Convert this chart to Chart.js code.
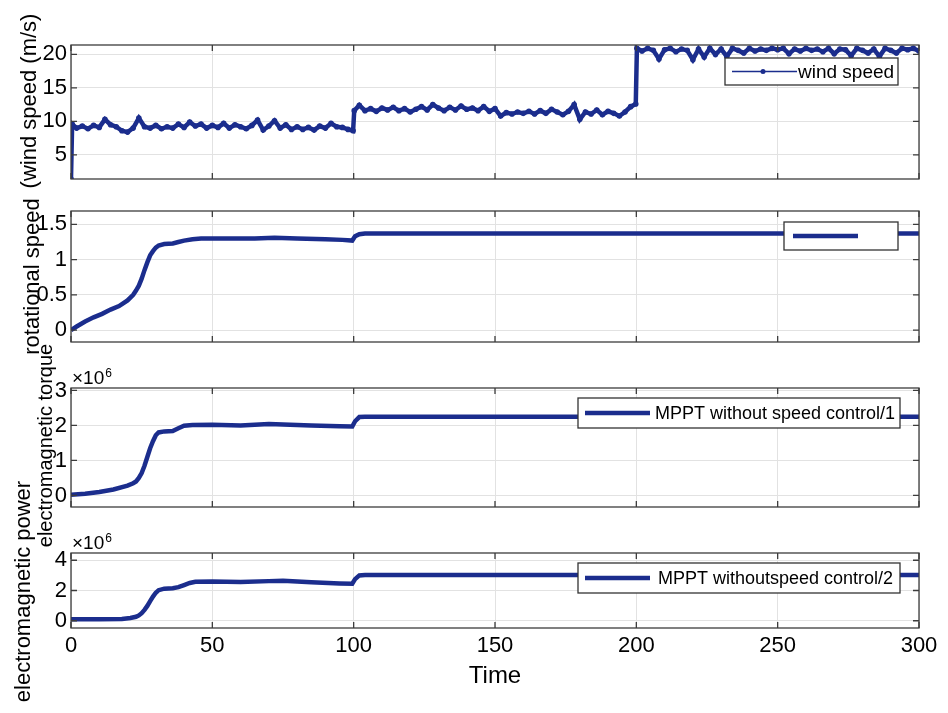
<!DOCTYPE html>
<html>
<head>
<meta charset="utf-8">
<title>MPPT without speed control</title>
<script src="https://cdn.jsdelivr.net/npm/chart.js@4.4.1/dist/chart.umd.min.js"></script>
<style>
    body { margin: 0; background: #fff; }
    #wrap { position: relative; width: 948px; height: 713px; overflow: hidden; }
    #wrap canvas { position: absolute; left: 0; }
</style>
</head>
<body>
<div id="wrap">
    <canvas id="windChart" width="948" height="200" style="top:0px"></canvas>
    <canvas id="rotChart" width="948" height="170" style="top:190px"></canvas>
    <canvas id="torqueChart" width="948" height="215" style="top:340px"></canvas>
    <canvas id="powerChart" width="948" height="243" style="top:470px"></canvas>
</div>
<script>
// shared time axis
var xTicks = [0, 50, 100, 150, 200, 250, 300];

// wind speed (m/s)
var windTime = [
    0, 0.4, 2, 4, 6, 8, 10, 12, 14, 16, 18, 20, 22, 24, 26, 28, 30, 32, 34, 36, 38, 40, 42, 44, 46, 48,
    50, 52, 54, 56, 58, 60, 62, 64, 66, 68, 70, 72, 74, 76, 78, 80, 82, 84, 86, 88, 90, 92, 94, 96, 98, 99.8,
    100.2, 102, 104, 106, 108, 110, 112, 114, 116, 118, 120, 122, 124, 126, 128, 130, 132, 134, 136, 138, 140,
    142, 144, 146, 148, 150, 152, 154, 156, 158, 160, 162, 164, 166, 168, 170, 172, 174, 176, 178, 180, 182,
    184, 186, 188, 190, 192, 194, 196, 198, 199.8,
    200.2, 202, 204, 206, 208, 210, 212, 214, 216, 218, 220, 222, 224, 226, 228, 230, 232, 234, 236, 238, 240,
    242, 244, 246, 248, 250, 252, 254, 256, 258, 260, 262, 264, 266, 268, 270, 272, 274, 276, 278, 280, 282,
    284, 286, 288, 290, 292, 294, 296, 298, 300
];
var windSpeed = [
    1.4, 9.6, 9.0, 9.3, 8.9, 9.4, 9.1, 10.3, 9.5, 9.2, 8.6, 8.4, 9.0, 10.5, 9.2, 9.0, 9.4, 8.9, 9.2, 9.0, 9.6, 9.1, 9.9, 9.3, 9.6, 9.0,
    9.4, 9.1, 9.7, 9.0, 9.5, 9.2, 8.9, 9.4, 10.2, 8.7, 9.3, 10.1, 9.0, 9.5, 8.8, 9.2, 8.8, 9.1, 8.7, 9.3, 9.0, 9.7, 9.2, 9.1, 8.8, 8.6,
    11.6, 12.4, 11.6, 11.9, 11.5, 12.0, 11.7, 12.1, 11.6, 11.9, 11.4, 11.8, 12.2, 11.7, 12.5, 12.0, 11.6, 12.1, 11.7, 12.3, 11.8,
    12.0, 11.6, 12.2, 11.5, 11.9, 10.8, 11.3, 11.1, 11.4, 11.2, 11.5, 11.1, 11.6, 11.2, 11.8, 11.4, 11.0, 11.5, 12.5, 10.3, 11.4,
    11.1, 11.7, 11.0, 11.5, 11.2, 10.8, 11.4, 12.2, 12.6,
    20.9, 20.5, 20.9, 20.6, 19.3, 20.7, 20.9, 20.4, 20.8, 20.6, 19.2, 20.8, 19.6, 20.9, 20.0, 20.8, 19.7, 20.9, 20.6, 20.2, 20.9,
    20.5, 20.8, 20.6, 20.9, 20.7, 20.9, 20.1, 20.8, 20.5, 20.9, 20.6, 20.8, 20.4, 20.9, 20.1, 20.8, 20.7, 19.8, 20.9, 20.6, 20.2,
    20.8, 19.7, 20.9, 20.6, 20.2, 20.9, 20.7, 20.9, 20.5
];
var windTicks = [5, 10, 15, 20];

// rotational speed
var rotTime = [0, 2, 5, 8, 11, 14, 17, 20, 22, 23, 24, 25, 26, 27, 28, 29, 30, 31, 33, 36, 38, 40, 43, 46,
    55, 65, 72, 80, 90, 96, 99.5, 100.5, 102, 104, 150, 200, 250, 300];
var rotSpeed = [0, 0.05, 0.12, 0.18, 0.23, 0.29, 0.34, 0.42, 0.5, 0.56, 0.63, 0.73, 0.85, 0.96, 1.06, 1.12, 1.17, 1.2, 1.22, 1.23, 1.25, 1.27, 1.29, 1.3,
    1.3, 1.3, 1.31, 1.3, 1.29, 1.28, 1.27, 1.33, 1.36, 1.37, 1.37, 1.37, 1.37, 1.37];
var rotTicks = [0, 0.5, 1, 1.5];

// electromagnetic torque (x10^6)
var torqueTime = [0, 5, 10, 15, 20, 22, 23, 24, 25, 26, 27, 28, 29, 30, 31, 33, 36, 38, 40, 43, 50, 60, 70, 75, 85, 95,
    99.5, 100.5, 102, 104, 150, 200, 250, 300];
var torqueValue = [0.02, 0.05, 0.1, 0.17, 0.28, 0.35, 0.4, 0.5, 0.64, 0.85, 1.1, 1.35, 1.55, 1.72, 1.8, 1.83, 1.84, 1.92, 1.99, 2.01, 2.02, 2.0, 2.04, 2.03, 2.0, 1.98,
    1.97, 2.12, 2.24, 2.25, 2.25, 2.25, 2.25, 2.25];
var torqueTicks = [0, 1, 2, 3];

// electromagnetic power (x10^6)
var powerTime = [0, 10, 18, 21, 23, 24, 25, 26, 27, 28, 29, 30, 31, 33, 36, 38, 40, 42, 44, 50, 60, 70, 75, 85, 95,
    99.5, 100.5, 102, 104, 150, 200, 250, 300];
var powerValue = [0.1, 0.1, 0.12, 0.18, 0.26, 0.35, 0.5, 0.72, 0.98, 1.3, 1.6, 1.85, 2.02, 2.12, 2.15, 2.22, 2.36, 2.5, 2.58, 2.6, 2.56, 2.62, 2.65, 2.55, 2.47,
    2.45, 2.75, 3.0, 3.02, 3.02, 3.02, 3.02, 3.02];
var powerTicks = [0, 2, 4];

var lineColor = '#1b2d8d';
var gridColor = '#e2e2e2';
var boxColor = '#3c3c3c';
var fontFamily = "'Liberation Sans', Arial, Helvetica, sans-serif";

Chart.defaults.font.family = fontFamily;
Chart.defaults.color = '#000';

function toPoints(t, v) {
    var pts = [];
    for (var i = 0; i < t.length; i++) {
        pts.push({ x: t[i], y: v[i] });
    }
    return pts;
}

// matlab style box, inward ticks, y label, exponent and legend box
var matlabAxes = {
    id: 'matlabAxes',
    afterDraw: function (chart, args, opts) {
        var ctx = chart.ctx;
        var a = chart.chartArea;
        var xs = chart.scales.x, ys = chart.scales.y;
        ctx.save();
        ctx.strokeStyle = boxColor;
        ctx.lineWidth = 1.3;
        ctx.strokeRect(a.left, a.top, a.right - a.left, a.bottom - a.top);
        ctx.beginPath();
        xs.ticks.forEach(function (t) {
            var px = xs.getPixelForValue(t.value);
            ctx.moveTo(px, a.bottom); ctx.lineTo(px, a.bottom - 6);
            ctx.moveTo(px, a.top); ctx.lineTo(px, a.top + 6);
        });
        ys.ticks.forEach(function (t) {
            var py = ys.getPixelForValue(t.value);
            ctx.moveTo(a.left, py); ctx.lineTo(a.left + 6, py);
            ctx.moveTo(a.right, py); ctx.lineTo(a.right - 6, py);
        });
        ctx.stroke();

        // y label (drawn here so long text is not squeezed)
        if (opts.yTitle) {
            var yt = opts.yTitle;
            ctx.save();
            ctx.translate(yt.x, (a.top + a.bottom) / 2 + (yt.dy || 0));
            ctx.rotate(-Math.PI / 2);
            ctx.fillStyle = '#000';
            ctx.font = yt.size + 'px ' + fontFamily;
            ctx.textAlign = 'center';
            ctx.textBaseline = 'middle';
            ctx.fillText(yt.text, 0, 0);
            ctx.restore();
        }

        if (opts.exponent) {
            ctx.fillStyle = '#000';
            ctx.textAlign = 'left';
            ctx.textBaseline = 'alphabetic';
            ctx.font = '19px ' + fontFamily;
            var base = '\u00d710';
            ctx.fillText(base, a.left + 1, a.top - 4);
            var w = ctx.measureText(base).width;
            ctx.font = '12px ' + fontFamily;
            ctx.fillText(opts.exponent, a.left + 1 + w + 1, a.top - 11);
        }

        var lg = opts.legend;
        if (lg) {
            var x0 = a.right - lg.right - lg.width;
            var y0 = a.top + lg.top;
            var cy = y0 + lg.height / 2;
            var ds = chart.data.datasets[0];
            ctx.fillStyle = '#fff';
            ctx.fillRect(x0, y0, lg.width, lg.height);
            ctx.strokeStyle = '#333';
            ctx.lineWidth = 1.3;
            ctx.strokeRect(x0, y0, lg.width, lg.height);
            ctx.strokeStyle = ds.borderColor;
            ctx.lineWidth = lg.lineWidth;
            ctx.beginPath();
            ctx.moveTo(x0 + lg.lineStart, cy);
            ctx.lineTo(x0 + lg.lineStart + 65, cy);
            ctx.stroke();
            if (lg.marker) {
                ctx.fillStyle = ds.borderColor;
                ctx.beginPath();
                ctx.arc(x0 + lg.lineStart + 31, cy, 2.5, 0, Math.PI * 2);
                ctx.fill();
            }
            if (ds.label) {
                ctx.fillStyle = '#000';
                ctx.font = lg.fontSize + 'px ' + fontFamily;
                ctx.textAlign = 'left';
                ctx.textBaseline = 'middle';
                ctx.fillText(ds.label, x0 + lg.textX, cy + 1);
            }
        }
        ctx.restore();
    }
};

function makePanel(id, cfg) {
    var showX = !!cfg.showX;
    var ctx = document.getElementById(id).getContext('2d');
    return new Chart(ctx, {
        type: 'line',
        data: {
            datasets: [{
                label: cfg.label,
                data: cfg.data,
                borderColor: lineColor,
                backgroundColor: lineColor,
                borderWidth: cfg.lineWidth,
                pointRadius: cfg.pointRadius || 0,
                pointBorderWidth: 0,
                pointBackgroundColor: lineColor,
                tension: 0,
                fill: false
            }]
        },
        options: {
            responsive: false,
            animation: false,
            devicePixelRatio: 1,
            layout: { padding: { left: 0, right: 29, top: cfg.padTop, bottom: cfg.padBottom } },
            plugins: {
                legend: { display: false },
                tooltip: { enabled: false },
                matlabAxes: { legend: cfg.legend, exponent: cfg.exponent, yTitle: cfg.yTitle }
            },
            scales: {
                x: {
                    type: 'linear',
                    min: 0,
                    max: 300,
                    afterBuildTicks: function (s) { s.ticks = xTicks.map(function (v) { return { value: v }; }); },
                    afterFit: function (s) { s.height = showX ? 63 : 0; },
                    grid: { color: gridColor, drawTicks: false, lineWidth: 1 },
                    border: { display: false },
                    ticks: {
                        display: showX,
                        padding: 5,
                        font: { size: 22 },
                        maxRotation: 0,
                        callback: function (v) { return String(v); }
                    },
                    title: {
                        display: showX,
                        text: 'Time',
                        font: { size: 24 },
                        padding: { top: 0, bottom: 0 }
                    }
                },
                y: {
                    type: 'linear',
                    min: cfg.yMin,
                    max: cfg.yMax,
                    afterBuildTicks: function (s) { s.ticks = cfg.ticks.map(function (v) { return { value: v }; }); },
                    afterFit: function (s) { s.width = 71; },
                    grid: { color: gridColor, drawTicks: false, lineWidth: 1 },
                    border: { display: false },
                    ticks: {
                        padding: 4,
                        font: { size: 22 },
                        callback: function (v) { return String(v); }
                    }
                }
            }
        },
        plugins: [matlabAxes]
    });
}

makePanel('windChart', {
    data: toPoints(windTime, windSpeed),
    label: 'wind speed',
    lineWidth: 4.5,
    pointRadius: 2.8,
    yMin: 1.4, yMax: 21.4, ticks: windTicks,
    padTop: 45, padBottom: 21,
    yTitle: { text: '(wind speed (m/s)', x: 30, size: 22, dy: -11 },
    legend: { width: 173, height: 27, top: 13, right: 21, lineStart: 7, lineWidth: 1.5, marker: true, textX: 73, fontSize: 19 }
});

makePanel('rotChart', {
    data: toPoints(rotTime, rotSpeed),
    label: '',
    lineWidth: 4.5,
    yMin: -0.17, yMax: 1.69, ticks: rotTicks,
    padTop: 21, padBottom: 18,
    yTitle: { text: 'rotational speed', x: 33, size: 22, dy: 0 },
    legend: { width: 114, height: 28, top: 11, right: 21, lineStart: 9, lineWidth: 4.5 }
});

makePanel('torqueChart', {
    data: toPoints(torqueTime, torqueValue),
    label: 'MPPT without speed control/1',
    lineWidth: 4.5,
    yMin: -0.33, yMax: 3.07, ticks: torqueTicks,
    padTop: 48, padBottom: 48,
    exponent: '6',
    yTitle: { text: 'electromagnetic torque', x: 46, size: 20, dy: -2 },
    legend: { width: 322, height: 30, top: 10, right: 19, lineStart: 7, lineWidth: 4.5, textX: 77, fontSize: 18 }
});

makePanel('powerChart', {
    data: toPoints(powerTime, powerValue),
    label: 'MPPT withoutspeed control/2',
    lineWidth: 4.5,
    yMin: -0.48, yMax: 4.48, ticks: powerTicks,
    padTop: 83, padBottom: 22,
    showX: true,
    exponent: '6',
    yTitle: { text: 'electromagnetic power', x: 24, size: 22, dy: 1 },
    legend: { width: 322, height: 30, top: 10, right: 19, lineStart: 7, lineWidth: 4.5, textX: 80, fontSize: 18 }
});
</script>
</body>
</html>
